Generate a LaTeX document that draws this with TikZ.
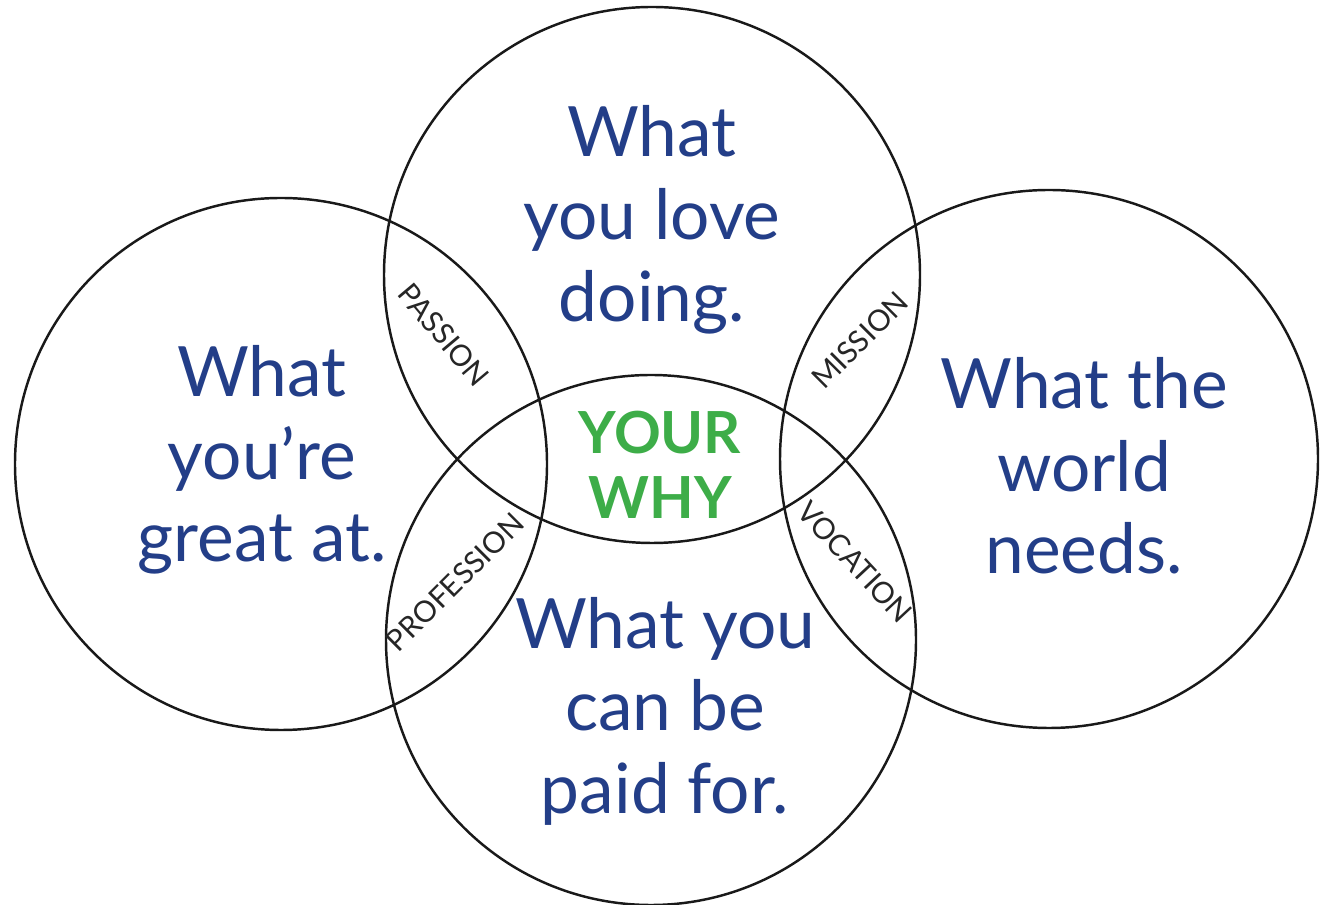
\documentclass[tikz,border=0pt]{standalone}
\usepackage{fontspec}
\setmainfont{Lato}
\usepackage{xcolor}
\definecolor{whyblue}{HTML}{233E88}
\definecolor{whygreen}{HTML}{3DAD48}

\begin{document}
\begin{tikzpicture}[>=latex]
    \tikzset{
        ring/.style={draw=black!90,line width=1.4pt},
        big/.style={text=whyblue,align=center,font=\fontsize{39.5}{47}\selectfont},
        tag/.style={text=black!85,inner sep=0pt,font=\fontsize{16.8}{18}\selectfont}
    }
    \useasboundingbox (0,0) rectangle (26.44,18.10);

    \draw[ring] (13.04,12.60) circle (5.36);
    \draw[ring] (5.62,8.82) circle (5.32);
    \draw[ring] (20.98,8.92) circle (5.38);
    \draw[ring] (13.02,5.30) circle (5.30);

    \node[big] (love) at (13.04,13.70) {What\\you love\\doing.};
    \node[big] (great) at (5.24,8.90) {What\\you’re\\great at.};
    \node[big] (world) at (21.68,8.78) {What the\\world\\needs.};
    \node[big] (paid) at (13.30,3.88) {What you\\can be\\paid for.};

    \node[text=whygreen,align=center,font=\bfseries\fontsize{33}{37}\selectfont]
        (why) at (13.20,8.80) {YOUR\\WHY};

    \node[tag,rotate=-50] (passion) at (8.88,11.40) {PASSION};
    \node[tag,rotate=45] (mission) at (17.20,11.30) {MISSION};
    \node[tag,rotate=45] (profession) at (9.10,6.46) {PROFESSION};
    \node[tag,rotate=-47] (vocation) at (17.10,6.86) {VOCATION};
\end{tikzpicture}
\end{document}
